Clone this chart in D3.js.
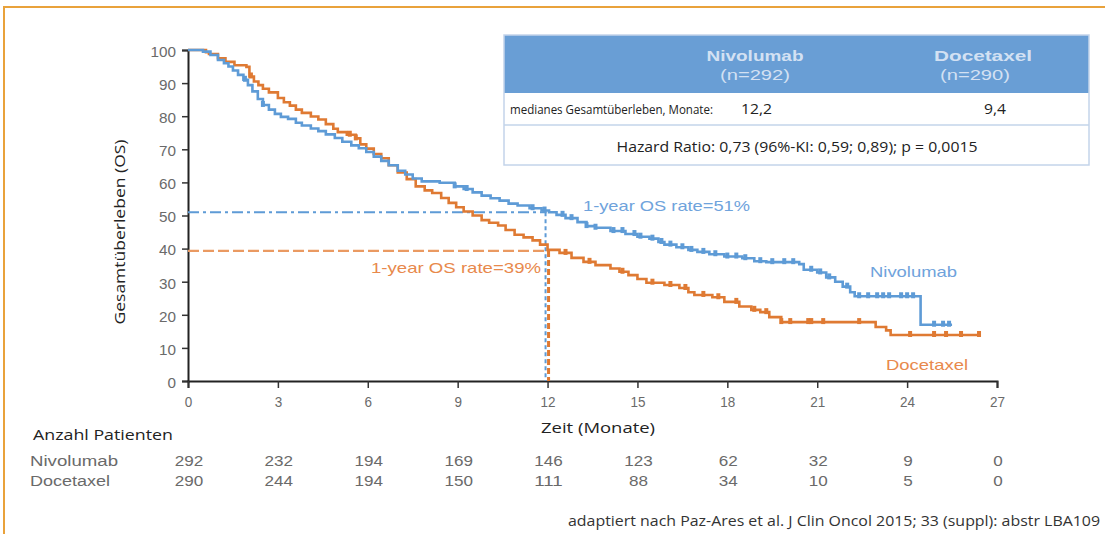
<!DOCTYPE html>
<html><head><meta charset="utf-8">
<script src="https://cdn.jsdelivr.net/npm/d3@7"></script>
<style>body{margin:0;background:#fff}svg{display:block}</style>
</head><body>
<svg id="c" width="1105" height="534"></svg>
<script>
// ---- data ----
const xTicks = [0,3,6,9,12,15,18,21,24,27];
const yTicks = [0,10,20,30,40,50,60,70,80,90,100];
const riskNivo = [292,232,194,169,146,123,62,32,9,0];
const riskDoce = [290,244,194,150,111,88,34,10,5,0];
const nivoSteps = [[0,100],[0.5,99.5],[0.75,98.5],[1.0,97],[1.2,96],[1.35,95],[1.5,93.8],[1.67,92.5],[1.85,91],[2.0,89.4],[2.15,87.5],[2.33,85.2],[2.5,83.4],[2.7,82],[2.9,80.7],[3.1,79.8],[3.34,79.2],[3.6,78],[3.8,77.2],[4.1,76.3],[4.35,75.5],[4.6,74.5],[4.9,73.4],[5.15,72.3],[5.45,71.2],[5.7,70.3],[5.95,69.2],[6.2,67.8],[6.45,66.5],[6.7,65.2],[7.0,63.5],[7.25,62.4],[7.5,61.2],[7.8,60.3],[8.4,59.9],[8.9,58.8],[9.2,58],[9.5,57],[9.8,56],[10.1,55.2],[10.4,54.5],[10.7,53.6],[11.0,53],[11.4,52.2],[11.8,51.5],[12.05,51],[12.3,50.2],[12.6,49.2],[13.0,48],[13.3,46.8],[13.6,46.3],[14.1,45.3],[14.6,44.4],[15.0,43.6],[15.4,43],[15.7,42],[15.9,41.2],[16.3,40.4],[16.7,39.6],[17.0,39],[17.4,38.3],[17.9,37.6],[18.5,37.1],[18.9,36.2],[19.3,35.9],[20.4,35.3],[20.55,33.6],[21.0,32.8],[21.3,31.3],[21.6,30],[21.85,28.5],[22.1,26.8],[22.25,25.6],[24.45,17],[25.5,17]];
const doceSteps = [[0,100],[0.6,99.3],[0.7,98.8],[1.0,97.5],[1.25,96.4],[1.55,95.4],[1.95,94.9],[2.05,92],[2.2,90.5],[2.35,89.4],[2.5,88.3],[2.7,87.2],[3.0,85.5],[3.2,84.2],[3.4,83.2],[3.6,82],[3.8,81],[4.1,79.9],[4.35,79],[4.6,77.6],[4.85,76.2],[5.0,75.2],[5.3,74.4],[5.6,73.3],[5.75,71.5],[5.95,70.2],[6.2,68.6],[6.45,67.3],[6.7,65.2],[7.0,63],[7.3,61],[7.6,58.8],[7.9,57.6],[8.15,56.8],[8.45,55.3],[8.7,53.8],[8.95,52.5],[9.2,51.2],[9.5,50],[9.8,48.6],[10.05,47.8],[10.35,47],[10.6,45.6],[10.9,44.2],[11.2,43.4],[11.5,42.5],[11.75,41.2],[12.0,39.6],[12.4,38.7],[12.8,37.2],[13.2,36],[13.6,35],[14.1,34],[14.4,33],[14.7,32],[15.0,30.8],[15.3,29.7],[15.9,29],[16.4,28.1],[16.7,26.8],[16.9,26],[17.5,25.3],[17.9,23.9],[18.4,22.5],[18.8,21.5],[19.1,20.8],[19.4,19.3],[19.8,17.8],[22.95,16.3],[23.3,15.3],[23.45,13.9],[26.4,13.9]];
const nivoCensor = [1.9,2.5,8.9,9.3,11.5,11.9,12.5,12.8,13.3,13.6,14.2,14.5,14.9,15.1,15.5,15.8,16.1,16.5,16.8,17.2,17.6,18.0,18.3,18.6,19.1,19.5,19.9,20.2,20.8,21.1,21.4,22.0,22.4,22.7,23.0,23.2,23.4,23.8,24.0,24.2,24.9,25.2,25.4];
const doceCensor = [2.1,5.4,5.6,12.6,13.4,14.5,15.5,16.1,16.6,17.2,17.7,18.3,18.9,19.3,19.8,20.1,20.7,20.8,21.2,22.4,24.1,24.9,25.3,25.8,26.4];
const oneYear = {month:12, nivo:51, doce:39.3};
const tableHead = ["Nivolumab","(n=292)","Docetaxel","(n=290)"];
const tableRow = ["medianes Gesamtüberleben, Monate:","12,2","9,4"];
const hazardText = "Hazard Ratio: 0,73 (96%-KI: 0,59; 0,89); p = 0,0015";

// ---- drawing ----
const BLUE = "#5e9bd6", ORANGE = "#df7a33", GRAY = "#5a5a5a";
const FONT = "'Liberation Sans', Arial, sans-serif";
const svg = d3.select("#c");
svg.append("rect").attr("width",1105).attr("height",534).attr("fill","#fff");
// frame
svg.append("path").attr("d","M4,534 V7 H1105").attr("fill","none").attr("stroke","#e9a23b").attr("stroke-width",2);

const x = d3.scaleLinear().domain([0,27]).range([188,997]);
const y = d3.scaleLinear().domain([0,100]).range([381,50]);

function txt(g, s, px, py, opt={}) {
  const t = g.append("text").attr("x",px).attr("y",py).text(s)
    .attr("font-family",opt.family||FONT).attr("font-size",opt.size||14)
    .attr("fill",opt.fill||GRAY).attr("text-anchor",opt.anchor||"start");
  if (opt.weight) t.attr("font-weight",opt.weight);
  if (opt.len) t.attr("textLength",opt.len).attr("lengthAdjust","spacingAndGlyphs");
  return t;
}

// axes
const yAx = svg.append("g").attr("transform","translate(188,0)")
  .call(d3.axisLeft(y).tickValues(yTicks).tickSize(6).tickPadding(6).tickFormat(d3.format("d")));
const xAx = svg.append("g").attr("transform","translate(0,381)")
  .call(d3.axisBottom(x).tickValues(xTicks).tickSize(7).tickPadding(5).tickFormat(d3.format("d")));
[yAx,xAx].forEach(a=>{
  a.select(".domain").attr("stroke","#222").attr("stroke-width",2);
  a.selectAll(".tick line").attr("stroke","#333").attr("stroke-width",1.5);
  a.selectAll(".tick text").attr("font-family",FONT).attr("font-size",15).attr("fill","#6a6a6a")
   .attr("lengthAdjust","spacingAndGlyphs");
});
yAx.selectAll(".tick text").attr("textLength",d=>String(d).length*8.5).attr("dy","0.42em");
xAx.selectAll(".tick text").attr("textLength",d=>String(d).length*7.5).attr("dy","0.9em");

// 1-year reference lines
const ref = svg.append("g").attr("fill","none");
ref.append("line").attr("x1",x(0)).attr("x2",x(oneYear.month)-1).attr("y1",y(oneYear.nivo)).attr("y2",y(oneYear.nivo))
  .attr("stroke",BLUE).attr("stroke-width",2).attr("stroke-dasharray","11,4,3,4");
ref.append("line").attr("x1",x(0)).attr("x2",x(oneYear.month)).attr("y1",y(oneYear.doce)).attr("y2",y(oneYear.doce))
  .attr("stroke","#ea9a62").attr("stroke-width",2.2).attr("stroke-dasharray","11,4");
ref.append("line").attr("x1",x(oneYear.month)-2).attr("x2",x(oneYear.month)-2).attr("y1",y(oneYear.nivo)).attr("y2",y(0))
  .attr("stroke",BLUE).attr("stroke-width",2).attr("stroke-dasharray","4,3");
ref.append("line").attr("x1",x(oneYear.month)+1).attr("x2",x(oneYear.month)+1).attr("y1",y(oneYear.doce)).attr("y2",y(0))
  .attr("stroke",ORANGE).attr("stroke-width",3).attr("stroke-dasharray","6,3");

// curves
const line = d3.line().x(d=>x(d[0])).y(d=>y(d[1])).curve(d3.curveStepAfter);
const bis = d3.bisector(d=>d[0]).right;
function survAt(steps,t){ return steps[Math.max(0,bis(steps,t)-1)][1]; }
[[doceSteps,ORANGE,doceCensor],[nivoSteps,BLUE,nivoCensor]].forEach(([steps,col,cens])=>{
  svg.append("path").attr("d",line(steps)).attr("fill","none").attr("stroke",col).attr("stroke-width",2.6);
  svg.append("g").selectAll("rect").data(cens).join("rect")
    .attr("x",d=>x(d)-2).attr("y",d=>y(survAt(steps,d))-4).attr("width",4).attr("height",6).attr("fill",col);
});

// annotations
txt(svg,"1-year OS rate=51%",583,211,{fill:"#6fa3dc",size:15,len:167});
txt(svg,"1-year OS rate=39%",541,273,{fill:"#e8894c",size:15,len:170,anchor:"end"});
txt(svg,"Nivolumab",870,277,{fill:"#6fa3dc",size:15,len:87});
txt(svg,"Docetaxel",886,370,{fill:"#e8894c",size:15,len:82});

// axis titles
const OS = "'Open Sans','Noto Sans',sans-serif";
txt(svg,"Gesamtüberleben (OS)",0,0,{family:OS,size:15,fill:"#222",anchor:"middle",len:185})
  .attr("transform","translate(125,232) rotate(-90)");
txt(svg,"Zeit (Monate)",598,433,{family:OS,size:15,fill:"#222",anchor:"middle",len:114});
txt(svg,"Anzahl Patienten",33,440,{family:OS,size:15,fill:"#222",len:140});

// risk table
txt(svg,"Nivolumab",30,466,{size:14,fill:"#6a6a6a",len:88});
txt(svg,"Docetaxel",30,486,{size:14,fill:"#6a6a6a",len:80});
[[riskNivo,466],[riskDoce,486]].forEach(([vals,py])=>{
  svg.append("g").selectAll("text").data(vals).join("text")
    .attr("x",(d,i)=>x(xTicks[i])+1).attr("y",py).attr("text-anchor","middle")
    .attr("font-family",FONT).attr("font-size",14).attr("fill","#6a6a6a")
    .attr("textLength",d=>String(d).length*9.5).attr("lengthAdjust","spacingAndGlyphs").text(d=>d);
});

// credit
txt(svg,"adaptiert nach Paz-Ares et al. J Clin Oncol 2015; 33 (suppl): abstr LBA109",1100,526,{family:OS,size:14,fill:"#333",anchor:"end",len:532});

// info table
const tb = svg.append("g");
tb.append("rect").attr("x",504).attr("y",35).attr("width",585).attr("height",58).attr("fill","#699ed5");
tb.append("rect").attr("x",504).attr("y",35).attr("width",585).attr("height",130).attr("fill","none").attr("stroke","#c3d4ea").attr("stroke-width",1.5);
tb.append("line").attr("x1",504).attr("x2",1089).attr("y1",125).attr("y2",125).attr("stroke","#c3d4ea").attr("stroke-width",1.5);
const HC = "#d3e1f3";
txt(tb,tableHead[0],755,61,{size:15,fill:HC,anchor:"middle",weight:"bold",len:97});
txt(tb,tableHead[1],755,80,{size:14,fill:HC,anchor:"middle",len:70});
txt(tb,tableHead[2],983,61,{size:15,fill:HC,anchor:"middle",weight:"bold",len:98});
txt(tb,tableHead[3],975,80,{size:14,fill:HC,anchor:"middle",len:70});
txt(tb,tableRow[0],510,114,{family:OS,size:12,fill:"#222",len:203});
txt(tb,tableRow[1],741,114,{family:OS,size:15,fill:"#222",len:31});
txt(tb,tableRow[2],984,114,{family:OS,size:15,fill:"#222",len:22});
txt(tb,hazardText,797,152,{family:OS,size:14,fill:"#222",anchor:"middle",len:361});
</script>
</body></html>
